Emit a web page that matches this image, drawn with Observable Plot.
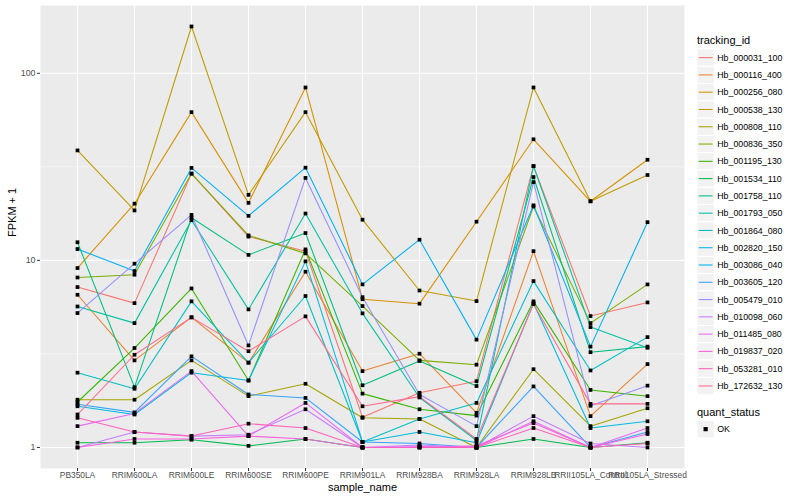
<!DOCTYPE html>
<html><head><meta charset="utf-8">
<script src="https://cdn.jsdelivr.net/npm/d3@7"></script>
<script src="https://cdn.jsdelivr.net/npm/@observablehq/plot@0.6"></script>
<style>
body{margin:0;background:#fff;font-family:"Liberation Sans",Arial,sans-serif;}
#wrap{position:relative;width:800px;height:500px;overflow:hidden;}
#legend{position:absolute;left:690px;top:0;}
</style></head><body>
<div id="wrap"><div id="chart"></div><div id="legend"></div></div>
<script>
const samples = ["PB350LA","RRIM600LA","RRIM600LE","RRIM600SE","RRIM600PE","RRIM901LA","RRIM928BA","RRIM928LA","RRIM928LB","RRII105LA_Control","RRII105LA_Stressed"];
const trackingIds = ["Hb_000031_100","Hb_000116_400","Hb_000256_080","Hb_000538_130","Hb_000808_110","Hb_000836_350","Hb_001195_130","Hb_001534_110","Hb_001758_110","Hb_001793_050","Hb_001864_080","Hb_002820_150","Hb_003086_040","Hb_003605_120","Hb_005479_010","Hb_010098_060","Hb_011485_080","Hb_019837_020","Hb_053281_010","Hb_172632_130"];
const palette = ["#F8766D","#EA8331","#D89000","#C09B00","#A3A500","#7CAE00","#39B600","#00BB4E","#00BF7D","#00C1A3","#00BFC4","#00BAE0","#00B0F6","#35A2FF","#9590FF","#C77CFF","#E76BF3","#FA62DB","#FF62BC","#FF6C91"];

// FPKM + 1 per sample (order of samples)
const hb000031_100 = [7.2, 5.91, 29.1, 13.4, 11.2, 1.45, 1.96, 2.26, 31.9, 5.04, 5.96];
const hb000116_400 = [6.55, 2.92, 4.96, 2.84, 8.7, 2.56, 3.17, 1.53, 11.2, 1.47, 2.79];
const hb000256_080 = [9.1, 20.1, 62, 20.3, 84, 6.2, 5.87, 16.1, 44.4, 20.7, 34.5];
const hb000538_130 = [38.7, 18.5, 178, 22.4, 62, 16.5, 6.9, 6.06, 84, 20.7, 28.6];
const hb000808_110 = [1.80, 1.80, 2.92, 1.88, 2.19, 1.44, 1.42, 1.0, 2.62, 1.30, 1.62];
const hb000836_350 = [8.1, 8.38, 29.1, 13.6, 10.9, 5.7, 2.92, 2.77, 19.4, 4.62, 7.44];
const hb001195_130 = [1.75, 3.40, 7.08, 2.28, 11.45, 1.94, 1.60, 1.48, 6.04, 2.03, 1.88];
const hb001534_110 = [1.06, 1.06, 1.10, 1.02, 1.11, 1.0, 1.0, 1.0, 1.11, 1.0, 1.06];
const hb001758_110 = [12.5, 2.10, 16.9, 10.7, 14.0, 2.15, 2.9, 2.13, 27.9, 3.23, 3.46];
const hb001793_050 = [5.67, 4.62, 16.4, 5.47, 17.8, 5.21, 1.85, 1.09, 31.9, 4.4, 3.41];
const hb001864_080 = [2.51, 2.06, 6.04, 2.84, 6.45, 1.07, 1.42, 1.73, 7.75, 2.58, 3.89];
const hb002820_150 = [1.66, 1.50, 2.51, 2.28, 9.88, 1.07, 1.21, 1.06, 5.9, 1.27, 1.38];
const hb003086_040 = [11.5, 8.77, 31.2, 17.3, 31.3, 7.44, 12.9, 3.77, 19.7, 3.46, 16.0];
const hb003605_120 = [1.70, 1.54, 3.07, 1.92, 1.84, 1.07, 1.05, 1.0, 2.12, 1.0, 1.21];
const hb005479_010 = [5.23, 9.6, 17.5, 3.51, 27.6, 6.36, 1.92, 1.30, 26.2, 1.67, 2.14];
const hb010098_060 = [1.0, 1.21, 1.15, 1.17, 1.60, 1.0, 1.03, 1.0, 1.47, 1.05, 1.0];
const hb011485_080 = [1.30, 1.52, 2.56, 1.15, 1.73, 1.0, 1.01, 1.0, 1.38, 1.0, 1.27];
const hb019837_020 = [1.0, 1.11, 1.11, 1.15, 1.11, 1.0, 1.0, 1.02, 1.35, 1.0, 1.18];
const hb053281_010 = [1.44, 1.21, 1.15, 1.34, 1.27, 1.0, 1.0, 1.0, 1.27, 1.0, 1.05];
const hb172632_130 = [1.50, 3.13, 4.96, 3.27, 5.02, 1.66, 1.87, 1.11, 5.84, 1.71, 1.71];

const seriesValues = [hb000031_100, hb000116_400, hb000256_080, hb000538_130, hb000808_110, hb000836_350, hb001195_130, hb001534_110, hb001758_110, hb001793_050, hb001864_080, hb002820_150, hb003086_040, hb003605_120, hb005479_010, hb010098_060, hb011485_080, hb019837_020, hb053281_010, hb172632_130];

const yMajor = [1, 10, 100];
const yMinor = [Math.sqrt(10), Math.sqrt(1000)];
const quantStatus = ["OK"];

const rows = trackingIds.flatMap((id, i) => samples.map((s, j) => ({id, sample: s, fpkm: seriesValues[i][j], status: quantStatus[0]})));

const font = "Liberation Sans, Arial, sans-serif";
const chart = Plot.plot({
  width: 800, height: 500,
  marginLeft: 40, marginRight: 116, marginTop: 5, marginBottom: 32,
  style: {fontFamily: font, fontSize: "8.8px", background: "white", overflow: "visible"},
  x: {type: "point", domain: samples, padding: 0.6, label: null, axis: null},
  y: {type: "log", domain: [Math.pow(10, -0.1125), Math.pow(10, 2.3625)], label: null, axis: null},
  color: {domain: trackingIds, range: palette},
  marks: [
    Plot.frame({fill: "#EBEBEB", stroke: null}),
    Plot.ruleY(yMinor, {stroke: "white", strokeWidth: 0.55}),
    Plot.ruleY(yMajor, {stroke: "white", strokeWidth: 1.1}),
    Plot.ruleX(samples, {stroke: "white", strokeWidth: 1.1}),
    Plot.line(rows, {x: "sample", y: "fpkm", z: "id", stroke: "id", strokeWidth: 1.07}),
    Plot.dot(rows, {x: "sample", y: "fpkm", symbol: "square", r: 2.1, fill: "black", stroke: null}),
    Plot.axisY(yMajor, {tickSize: 3, tickPadding: 2, fontSize: 8.8, fill: "#4D4D4D", stroke: "#333333", tickFormat: d => String(d), label: null}),
    Plot.axisX(samples, {tickSize: 3, tickPadding: 1, fontSize: 8.4, fill: "#4D4D4D", stroke: "#333333", label: null}),
    Plot.text(["FPKM + 1"], {frameAnchor: "left", dx: -28, rotate: -90, fontSize: 11, fill: "black"}),
    Plot.text(["sample_name"], {frameAnchor: "bottom", dy: 22, fontSize: 11, fill: "black"})
  ]
});
document.getElementById("chart").appendChild(chart);

// Legend (ggplot style, right side)
const lg = d3.select("#legend").append("svg").attr("width", 110).attr("height", 500)
  .style("font-family", font);
const keyH = 17.28, keyW = 17.28, x0 = 7, top0 = 49;
lg.append("text").attr("x", x0).attr("y", 40).attr("dy", "0.35em").attr("font-size", 11).text("tracking_id");
trackingIds.forEach((id, i) => {
  const y = top0 + i * keyH;
  lg.append("rect").attr("x", x0).attr("y", y).attr("width", keyW).attr("height", keyH).attr("fill", "#F2F2F2").attr("stroke", "white").attr("stroke-width", 1);
  lg.append("line").attr("x1", x0 + 1.7).attr("x2", x0 + keyW - 1.7).attr("y1", y + keyH / 2).attr("y2", y + keyH / 2).attr("stroke", palette[i]).attr("stroke-width", 1.07);
  lg.append("text").attr("x", x0 + keyW + 3).attr("y", y + keyH / 2).attr("dy", "0.35em").attr("font-size", 8.8).attr("fill", "black").text(id);
});
lg.append("text").attr("x", x0).attr("y", 412).attr("dy", "0.35em").attr("font-size", 11).text("quant_status");
quantStatus.forEach((q, i) => {
  const y = 420.5 + i * keyH;
  lg.append("rect").attr("x", x0).attr("y", y).attr("width", keyW).attr("height", keyH).attr("fill", "#F2F2F2").attr("stroke", "white");
  lg.append("rect").attr("x", x0 + keyW / 2 - 2.1).attr("y", y + keyH / 2 - 2.1).attr("width", 4.2).attr("height", 4.2).attr("fill", "black");
  lg.append("text").attr("x", x0 + keyW + 3).attr("y", y + keyH / 2).attr("dy", "0.35em").attr("font-size", 8.8).text(q);
});
</script>
</body></html>
